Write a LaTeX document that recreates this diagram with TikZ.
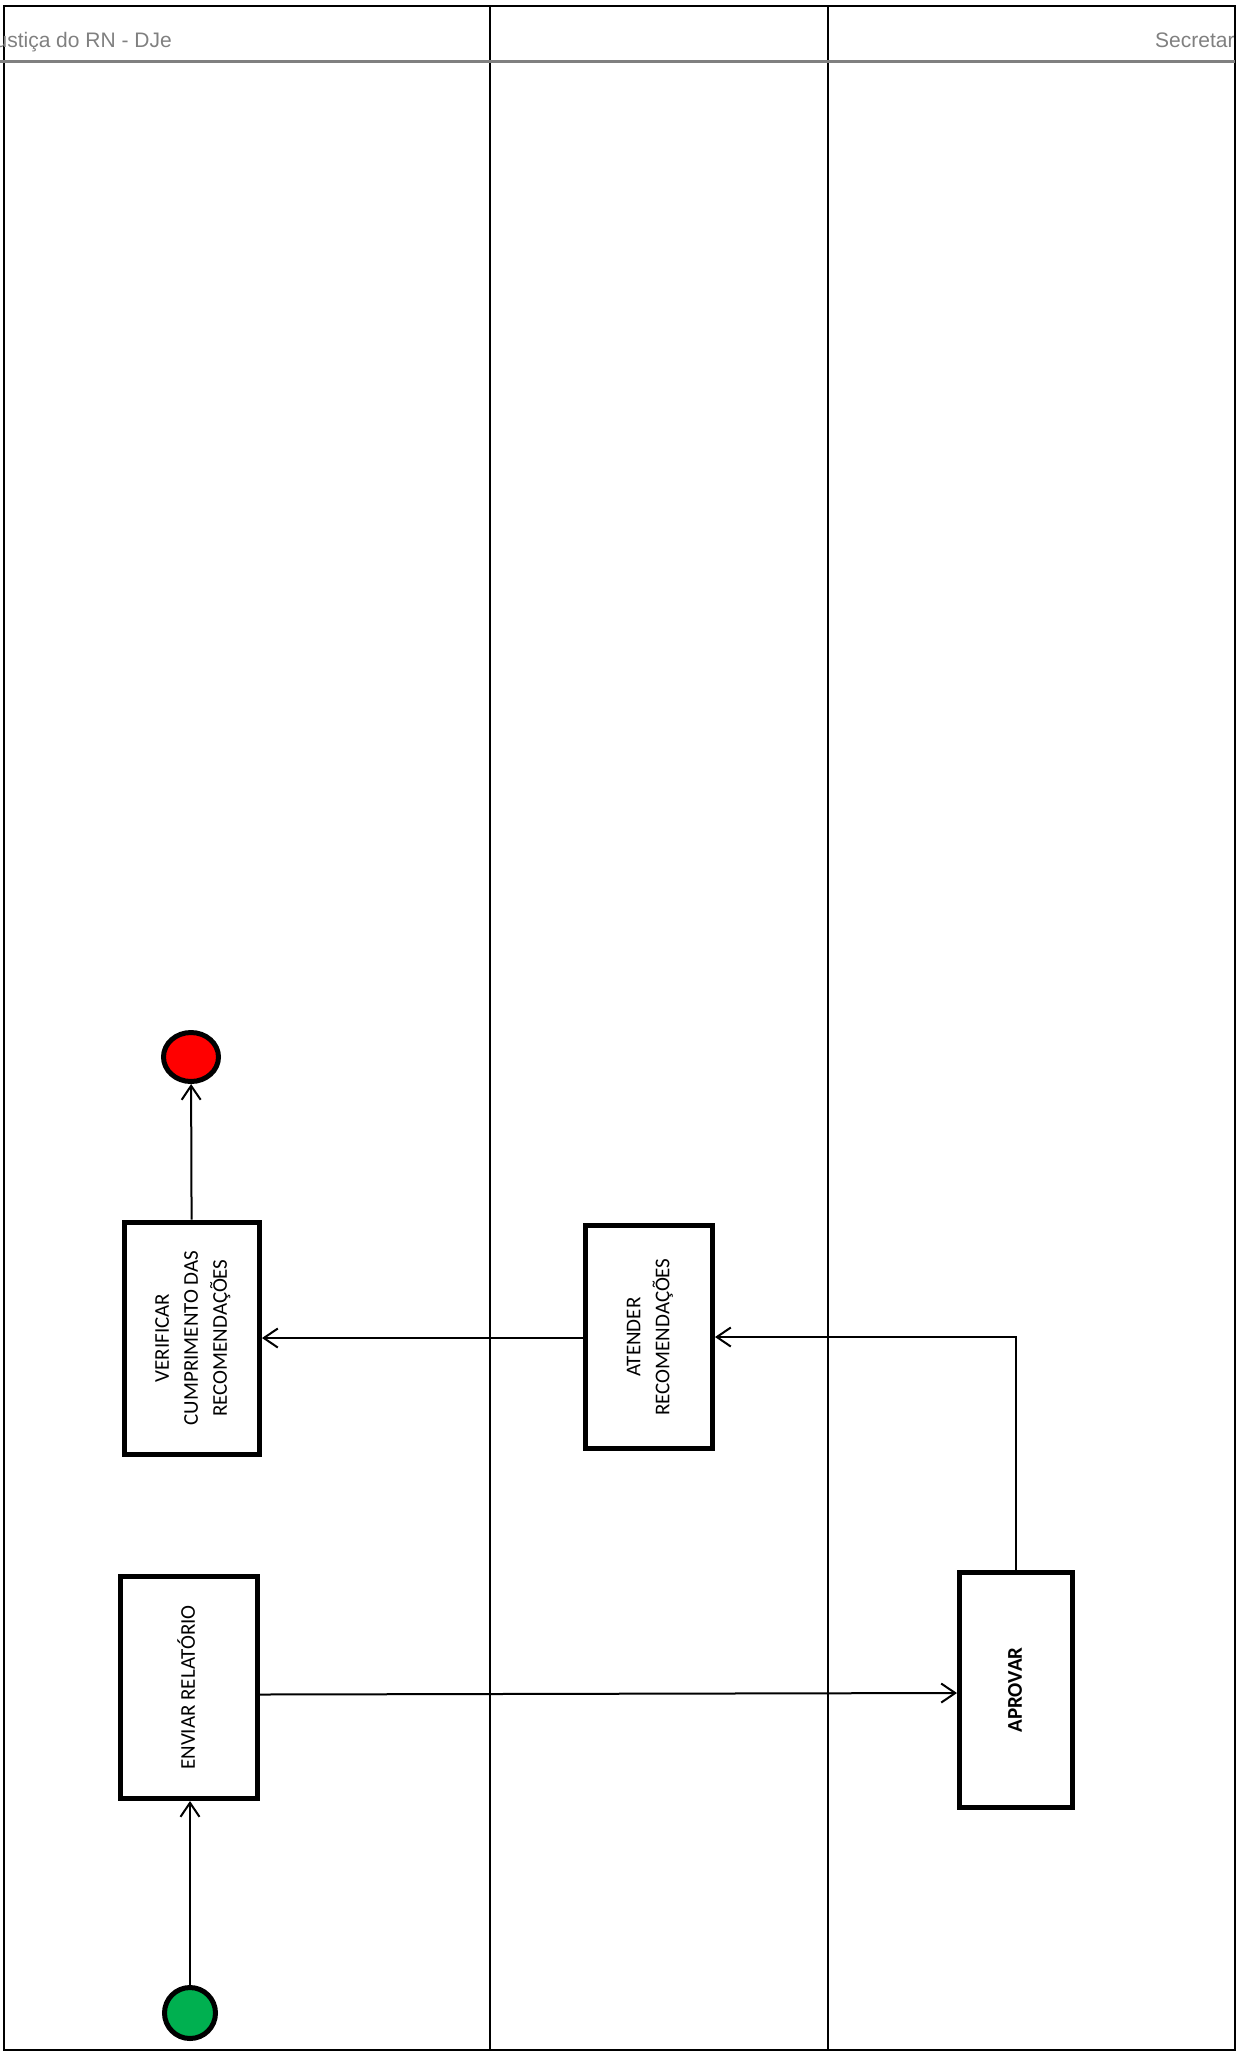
\documentclass[tikz,border=0pt]{standalone}
\usepackage{fontspec}
\setmainfont{Carlito}
\newfontfamily\cabecalho{Liberation Sans}
\usetikzlibrary{arrows.meta,shapes.geometric}
\definecolor{verdeinicio}{RGB}{0,176,80}
\definecolor{cinzatitulo}{RGB}{128,128,128}
\newcommand{\vtexto}[1]{\rotatebox{90}{\begin{tabular}{@{}c@{}}#1\end{tabular}}}

\begin{document}
\begin{tikzpicture}[x=1bp,y=-1bp,
        tarefa/.style={draw, line width=5bp, rectangle, inner sep=0pt,
            font=\fontsize{21bp}{29bp}\selectfont},
        fluxo/.style={line width=2bp, -{Straight Barb[length=14bp,width=19bp]}},
        titulo/.style={inner sep=0pt, text=cinzatitulo,
            font=\cabecalho\fontsize{21bp}{25bp}\selectfont}]
                    \useasboundingbox (0,0) rectangle (1239,2053);

                    \draw[line width = 2.5bp] (4,6) rectangle (1235,2050);
                    \draw[line width = 2bp] (490,6) -- (490,2050);
                    \draw[line width = 2bp] (828,6) -- (828,2050);
                    \draw[line width = 3bp, cinzatitulo] (0,61.5) -- (1235,61.5);

                    \begin{scope}
                                \clip (0,0) rectangle (1233,2053);
                                \node[titulo, anchor=base east] (raia1) at (172,47.5) {Justiça do RN - DJe};
                                \node[titulo, anchor=base west] (raia3) at (1155,47.5) {Secretaria};
                    \end{scope}

                    \node[tarefa, minimum width=135bp, minimum height=232bp] (verificar) at (192,1338)
                                {\vtexto{VERIFICAR\\CUMPRIMENTO DAS\\RECOMENDAÇÕES}};
                    \node[tarefa, minimum width=127bp, minimum height=223bp] (atender) at (649,1337)
                                {\vtexto{ATENDER\\RECOMENDAÇÕES}};
                    \node[tarefa, minimum width=137bp, minimum height=222bp] (enviar) at (189,1687.5)
                                {\vtexto{ENVIAR RELATÓRIO}};
                    \node[tarefa, minimum width=113bp, minimum height=235bp] (aprovar) at (1016,1690)
                                {\vtexto{\textbf{APROVAR}}};

                    \node[draw, ellipse, line width=5bp, fill=red, inner sep=0pt,
                                minimum width=55bp, minimum height=49bp] (fim) at (191,1057) {};
                    \node[draw, circle, line width=5bp, fill=verdeinicio, inner sep=0pt,
                                minimum size=51bp] (inicio) at (190,2013) {};

                    \draw[fluxo] (inicio) -- (inicio |- enviar.south);
                    \draw[fluxo] ([yshift=-7bp]enviar.east) -- ([yshift=-3bp]aprovar.west);
                    \draw[fluxo] (aprovar.north) |- (atender.east);
                    \draw[fluxo] (atender.west |- verificar.east) -- (verificar.east);
                    \draw[fluxo] (verificar) -- (fim);
\end{tikzpicture}
\end{document}
